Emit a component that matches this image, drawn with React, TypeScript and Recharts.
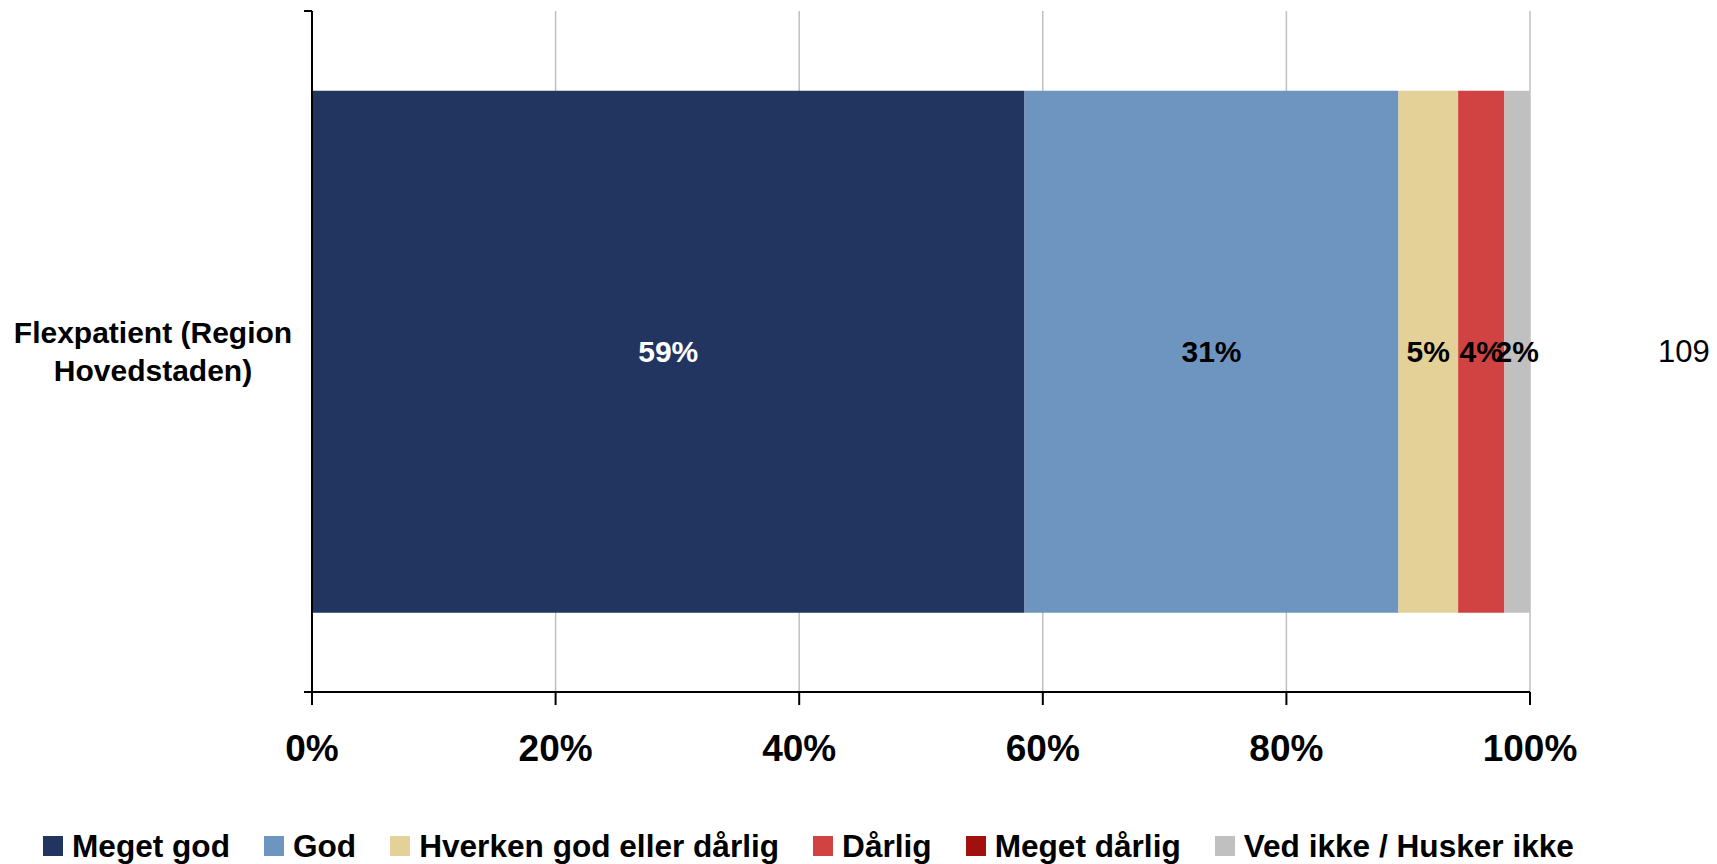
import { BarChart, Bar, XAxis, YAxis, CartesianGrid, Legend, LabelList } from "recharts";

const categories = ["Flexpatient (Region Hovedstaden)"];
const categoryLines = [["Flexpatient (Region", "Hovedstaden)"]];
const megetGod = [58.5];
const god = [30.7];
const hverken = [4.9];
const daarlig = [3.8];
const megetDaarlig = [0];
const vedIkke = [2.1];
const antal = [109];
const xTicks = [0, 20, 40, 60, 80, 100];

const series = [
  { key: "megetGod", name: "Meget god", color: "#213560", labelColor: "#ffffff" },
  { key: "god", name: "God", color: "#6E95C0", labelColor: "#000000" },
  { key: "hverken", name: "Hverken god eller dårlig", color: "#E4D198", labelColor: "#000000" },
  { key: "daarlig", name: "Dårlig", color: "#D14242", labelColor: "#000000" },
  { key: "megetDaarlig", name: "Meget dårlig", color: "#A0100F", labelColor: "#000000" },
  { key: "vedIkke", name: "Ved ikke / Husker ikke", color: "#C0C0C0", labelColor: "#000000" },
];

const data = categories.map((c, i) => ({
  name: c,
  megetGod: megetGod[i],
  god: god[i],
  hverken: hverken[i],
  daarlig: daarlig[i],
  megetDaarlig: megetDaarlig[i],
  vedIkke: vedIkke[i],
  n: antal[i],
}));

const FONT = "'Liberation Sans', Arial, sans-serif";

function CategoryTick(props: any) {
  const { x, y, height, index } = props;
  const axisX = x + 8;
  const lines = categoryLines[index] || [props.payload.value];
  const half = (height || 0) / 2;
  return (
    <g>
      <line x1={axisX - 8} x2={axisX} y1={y - half} y2={y - half} stroke="#000" strokeWidth={2} />
      <line x1={axisX - 8} x2={axisX} y1={y + half} y2={y + half} stroke="#000" strokeWidth={2} />
      <text
        x={axisX - 159}
        y={y - 19}
        textAnchor="middle"
        fontFamily={FONT}
        fontWeight="bold"
        fontSize={30}
        fill="#000"
      >
        {lines.map((l: string, k: number) => (
          <tspan key={k} x={axisX - 159} dy={k === 0 ? 10 : 38}>
            {l}
          </tspan>
        ))}
      </text>
    </g>
  );
}

function makeLabel(color: string) {
  return (props: any) => {
    const { x, y, width, height, value } = props;
    if (!value) return null;
    return (
      <text
        x={x + width / 2}
        y={y + height / 2}
        textAnchor="middle"
        dominantBaseline="central"
        fontFamily={FONT}
        fontWeight="bold"
        fontSize={30}
        fill={color}
      >
        {Math.round(value)}%
      </text>
    );
  };
}

function CountLabel(props: any) {
  const { x, y, width, height, value } = props;
  return (
    <text
      x={x + width + 128}
      y={y + height / 2}
      textAnchor="start"
      dominantBaseline="central"
      fontFamily={FONT}
      fontSize={31}
      fill="#000"
    >
      {value}
    </text>
  );
}

function LegendContent() {
  return (
    <div
      style={{
        display: "flex",
        alignItems: "center",
        paddingLeft: 43,
        gap: 34,
        fontFamily: FONT,
        fontWeight: "bold",
        fontSize: 31.6,
        color: "#000",
        height: 36,
      }}
    >
      {series.map((s) => (
        <div key={s.key} style={{ display: "flex", alignItems: "center", gap: 9 }}>
          <span style={{ width: 20, height: 20, background: s.color, display: "inline-block" }} />
          <span>{s.name}</span>
        </div>
      ))}
    </div>
  );
}

export default function App() {
  return (
    <div style={{ position: "absolute", left: 0, top: 0, background: "#fff" }}>
      <BarChart
        width={1717}
        height={864}
        data={data}
        layout="vertical"
        margin={{ top: 11, right: 187, left: 0, bottom: 0 }}
        barCategoryGap="11.7%"
      >
        <CartesianGrid horizontal={false} stroke="#C0C0C0" strokeWidth={1.5} />
        <XAxis
          type="number"
          domain={[0, 100]}
          ticks={xTicks}
          height={136}
          tickSize={13}
          tickMargin={30}
          axisLine={{ stroke: "#000", strokeWidth: 2 }}
          tickLine={{ stroke: "#000", strokeWidth: 2 }}
          tickFormatter={(v: number) => `${v}%`}
          tick={{ fontFamily: FONT, fontWeight: "bold", fontSize: 37, fill: "#000" }}
          interval={0}
        />
        <YAxis
          type="category"
          dataKey="name"
          width={312}
          tickSize={8}
          tickMargin={0}
          tickLine={false}
          axisLine={{ stroke: "#000", strokeWidth: 2 }}
          tick={<CategoryTick />}
        />
        <Legend verticalAlign="bottom" height={36} wrapperStyle={{ left: 0, width: 1717 }} content={<LegendContent />} />
        {series.map((s) => (
          <Bar key={s.key} dataKey={s.key} name={s.name} stackId="a" fill={s.color} isAnimationActive={false}>
            <LabelList dataKey={s.key} content={makeLabel(s.labelColor)} />
            {s.key === "vedIkke" && <LabelList dataKey="n" content={CountLabel} />}
          </Bar>
        ))}
      </BarChart>
    </div>
  );
}
